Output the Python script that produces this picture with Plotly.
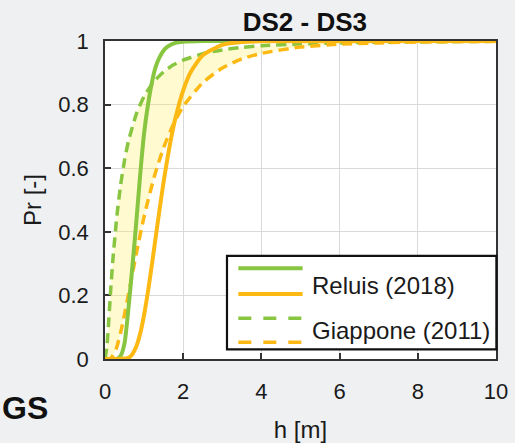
import plotly.graph_objects as go

# ---------------- data ----------------
h_reluis_ds2 = [0, 0.3, 0.4, 0.5, 0.6, 0.7, 0.8, 0.9, 1.0, 1.1, 1.2, 1.3, 1.4, 1.5, 1.6, 1.8, 2.0, 2.5, 10]
p_reluis_ds2 = [0, 0, 0.01, 0.05, 0.16, 0.29, 0.43, 0.58, 0.71, 0.80, 0.87, 0.92, 0.95, 0.97, 0.982, 0.994, 0.998, 1, 1]

h_reluis_ds3 = [0, 0.6, 0.7, 0.8, 0.9, 1.0, 1.1, 1.2, 1.3, 1.4, 1.5, 1.6, 1.7, 1.8, 2.0, 2.2, 2.5, 3.0, 3.5, 4, 10]
p_reluis_ds3 = [0, 0.004, 0.015, 0.039, 0.08, 0.139, 0.213, 0.297, 0.386, 0.474, 0.558, 0.633, 0.70, 0.757,
                0.845, 0.904, 0.955, 0.988, 0.997, 0.999, 1]

h_giappone = [0, 0.05, 0.1, 0.15, 0.2, 0.3, 0.4, 0.5, 0.6, 0.8, 1.0, 1.25, 1.5, 1.75, 2.0, 2.5, 3.0, 3.5, 4, 5, 6, 7, 8, 10]
p_giappone_ds2 = [0, 0.04, 0.13, 0.225, 0.31, 0.445, 0.548, 0.625, 0.685, 0.77, 0.826, 0.872, 0.903, 0.925, 0.94,
                  0.96, 0.972, 0.98, 0.985, 0.991, 0.994, 0.996, 0.997, 0.999]
p_giappone_ds3 = [0, 0, 0.0005, 0.003, 0.01, 0.037, 0.083, 0.14, 0.203, 0.331, 0.448, 0.569, 0.665, 0.738, 0.794,
                  0.869, 0.915, 0.944, 0.961, 0.981, 0.99, 0.994, 0.997, 0.999]

x_ticks = [0, 2, 4, 6, 8, 10]
y_ticks = [0, 0.2, 0.4, 0.6, 0.8, 1]
y_tick_text = ["0", "0.2", "0.4", "0.6", "0.8", "1"]

title_text = "DS2 - DS3"
legend_labels = ["Reluis (2018)", "Giappone (2011)"]

GREEN = "#88C540"
ORANGE = "#FDB913"
FILL = "rgba(255,240,100,0.30)"
FONT = "Liberation Sans, Arial, sans-serif"

fig = go.Figure()

# Giappone (2011) band
fig.add_trace(go.Scatter(x=h_giappone, y=p_giappone_ds2, mode="lines", name="Giappone (2011) DS2",
                         line=dict(color=GREEN, width=3.5, dash="10px,6px", shape="spline", smoothing=0.6)))
fig.add_trace(go.Scatter(x=h_giappone, y=p_giappone_ds3, mode="lines", name="Giappone (2011) DS3",
                         fill="tonexty", fillcolor=FILL,
                         line=dict(color=ORANGE, width=3.5, dash="10px,6px", shape="spline", smoothing=0.6)))
# Reluis (2018)
fig.add_trace(go.Scatter(x=h_reluis_ds2, y=p_reluis_ds2, mode="lines", name="Reluis (2018) DS2",
                         line=dict(color=GREEN, width=4, shape="spline", smoothing=0.6)))
fig.add_trace(go.Scatter(x=h_reluis_ds3, y=p_reluis_ds3, mode="lines", name="Reluis (2018) DS3",
                         line=dict(color=ORANGE, width=4, shape="spline", smoothing=0.6)))

axis_common = dict(
    showline=True, mirror=True, linecolor="#333333", linewidth=1.5,
    showgrid=True, gridcolor="#D9D9D9", gridwidth=1,
    ticks="inside", ticklen=6, tickcolor="#333333", tickwidth=1.5,
    tickfont=dict(family=FONT, size=22, color="#1a1a1a"),
    zeroline=False, layer="below traces", automargin=False,
)

fig.update_xaxes(range=[0, 10], tickvals=x_ticks, ticklabelstandoff=12,
                 title=dict(text="h [m]", font=dict(family=FONT, size=24, color="#1a1a1a"), standoff=26),
                 **axis_common)
fig.update_yaxes(range=[0, 1], tickvals=y_ticks, ticktext=y_tick_text, ticklabelstandoff=10,
                 title=dict(text="Pr [-]", font=dict(family=FONT, size=24, color="#1a1a1a"), standoff=10),
                 **axis_common)

# custom legend (box, samples, labels) in plot-area coordinates
shapes = [
    dict(type="rect", xref="x domain", yref="y domain", x0=0.312, x1=1.001, y0=0.0305, y1=0.324,
         line=dict(color="#111111", width=2.2), fillcolor="white", layer="above"),
    dict(type="line", xref="x domain", yref="y domain", x0=0.341, x1=0.5054, y0=0.2852, y1=0.2852,
         line=dict(color=GREEN, width=4)),
    dict(type="line", xref="x domain", yref="y domain", x0=0.341, x1=0.5054, y0=0.2044, y1=0.2044,
         line=dict(color=ORANGE, width=4)),
    dict(type="line", xref="x domain", yref="y domain", x0=0.341, x1=0.5054, y0=0.128, y1=0.128,
         line=dict(color=GREEN, width=3.5, dash="13px,12px")),
    dict(type="line", xref="x domain", yref="y domain", x0=0.341, x1=0.5054, y0=0.0525, y1=0.0525,
         line=dict(color=ORANGE, width=3.5, dash="13px,12px")),
]

annotations = [
    dict(text=legend_labels[0], xref="x domain", yref="y domain", x=0.524, y=0.2296,
         xanchor="left", yanchor="middle", showarrow=False,
         font=dict(family=FONT, size=24, color="#1a1a1a")),
    dict(text=legend_labels[1], xref="x domain", yref="y domain", x=0.524, y=0.089,
         xanchor="left", yanchor="middle", showarrow=False,
         font=dict(family=FONT, size=24, color="#1a1a1a")),
    dict(text="<b>GS</b>", xref="paper", yref="paper", x=-0.268, y=-0.155,
         xanchor="left", yanchor="middle", showarrow=False,
         font=dict(family=FONT, size=32, color="#111111")),
]

fig.update_layout(
    width=515, height=443,
    margin=dict(l=105, r=19, t=41, b=84),
    paper_bgcolor="#EEF0F2", plot_bgcolor="white",
    showlegend=False,
    title=dict(text="<b>" + title_text + "</b>", x=0.592, xanchor="center", y=0.950, yanchor="middle",
               font=dict(family=FONT, size=26, color="#111111")),
    shapes=shapes, annotations=annotations,
)

fig.write_html("out.html")
